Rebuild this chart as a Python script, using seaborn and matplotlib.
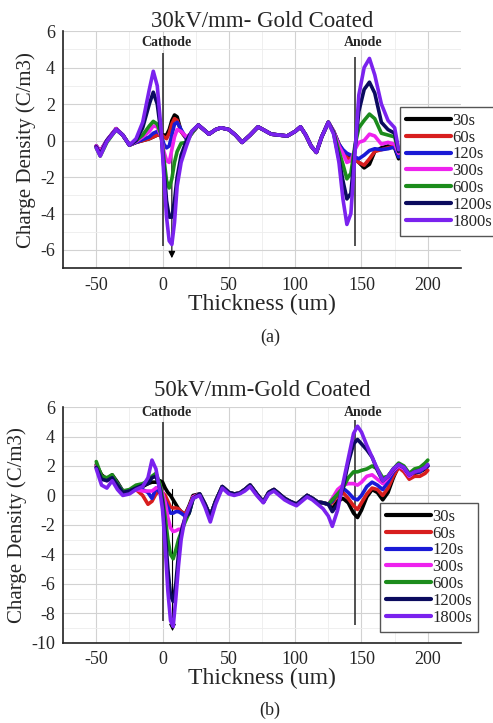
import numpy as np
import pandas as pd
import seaborn as sns
import matplotlib
matplotlib.use("Agg")
import matplotlib.pyplot as plt
from matplotlib.ticker import MultipleLocator

# ---------------- data ----------------
times = ["30s", "60s", "120s", "300s", "600s", "1200s", "1800s"]
colors = ["#000000", "#d81e1e", "#1a1ad6", "#ee22ee", "#1c8c1c", "#0b0b5e", "#7a22ee"]

# panel (a) 30 kV/mm
xa_left = [-50, -47, -42, -35, -30, -25, -20, -15, -10, -7, -4, -1, 1, 3, 5, 7, 9, 11, 14, 18, 22]
xa_bulk = [27, 31, 35, 40, 44, 50, 55, 60, 66, 72, 77, 82, 88, 94, 100, 104, 108, 112, 116, 120, 125]
xa_right = [129, 133, 136, 139, 142, 145, 148, 152, 156, 160, 165, 170, 175, 178]
bulk_a = [0.85, 0.6, 0.35, 0.6, 0.7, 0.6, 0.3, -0.1, 0.3, 0.75, 0.55, 0.35, 0.3, 0.25, 0.5, 0.75, 0.3, -0.3, -0.65, 0.2, 1.0]

a_30s = [-0.3, -0.6, 0.0, 0.65, 0.3, -0.25, -0.1, 0.0, 0.1, 0.2, 0.3, 0.3, 0.3, 0.3, 0.6, 1.1, 1.4, 1.3, 0.5, 0.1, 0.4] + bulk_a + \
        [0.5, -0.2, -0.6, -0.9, -0.9, -1.0, -1.2, -1.5, -1.3, -0.6, -0.4, -0.3, -0.4, -1.0]
a_60s = [-0.3, -0.6, 0.0, 0.65, 0.3, -0.25, -0.1, 0.0, 0.1, 0.2, 0.3, 0.3, 0.2, 0.1, 0.4, 0.9, 1.2, 1.1, 0.5, 0.1, 0.4] + bulk_a + \
        [0.5, -0.2, -0.55, -0.95, -1.0, -1.0, -1.2, -1.35, -1.0, -0.6, -0.5, -0.4, -0.3, -0.8]
a_120s = [-0.3, -0.6, 0.0, 0.65, 0.3, -0.25, -0.1, 0.05, 0.2, 0.4, 0.5, 0.3, -0.2, -0.4, -0.3, 0.3, 0.9, 1.0, 0.6, 0.1, 0.4] + bulk_a + \
         [0.5, -0.2, -0.5, -0.7, -0.8, -0.9, -1.0, -0.8, -0.55, -0.45, -0.5, -0.45, -0.35, -0.9]
a_300s = [-0.3, -0.6, 0.0, 0.65, 0.3, -0.25, -0.05, 0.2, 0.5, 0.8, 0.75, 0.2, -0.6, -1.1, -1.2, -0.5, 0.2, 0.6, 0.5, 0.2, 0.4] + bulk_a + \
         [0.5, -0.3, -0.7, -1.2, -1.1, -0.5, -0.1, 0.0, 0.35, 0.25, -0.2, -0.1, -0.2, -0.7]
a_600s = [-0.4, -0.85, -0.1, 0.6, 0.3, -0.25, 0.0, 0.3, 0.8, 1.05, 0.9, 0.3, -1.0, -2.2, -2.6, -2.1, -1.2, -0.6, -0.15, -0.1, 0.4] + bulk_a + \
         [0.45, -0.6, -1.3, -2.1, -1.8, -0.3, 0.7, 1.1, 1.45, 1.2, 0.4, 0.3, 0.2, -0.6]
a_1200s = [-0.35, -0.75, 0.0, 0.6, 0.3, -0.25, 0.0, 0.7, 2.0, 2.65, 2.0, 0.3, -1.5, -3.3, -4.2, -4.2, -3.3, -2.0, -0.8, 0.0, 0.5] + bulk_a + \
          [0.4, -1.0, -2.2, -3.2, -2.9, -0.5, 1.6, 2.8, 3.2, 2.6, 1.0, 0.6, 0.4, -0.6]
a_1800s = [-0.4, -0.85, -0.05, 0.6, 0.3, -0.25, 0.1, 1.0, 2.8, 3.8, 3.0, 0.5, -2.0, -4.2, -5.5, -5.7, -4.5, -2.5, -1.2, -0.3, 0.5] + bulk_a + \
          [0.35, -1.2, -3.2, -4.6, -4.0, -0.8, 2.5, 4.0, 4.5, 3.6, 2.0, 1.1, 0.7, -0.5]

# panel (b) 50 kV/mm
xb_left = [-50, -46, -42, -38, -34, -30, -25, -20, -15, -11, -8, -5, -2, 0, 2, 4, 6, 8, 10, 12, 14, 17, 20, 23]
xb_bulk = [28, 32, 36, 40, 45, 50, 54, 58, 62, 66, 71, 76, 80, 84, 88, 92, 96, 101, 105, 109, 113, 117, 121, 125]
xb_right = [128, 132, 136, 140, 144, 147, 150, 154, 158, 162, 166, 170, 174, 178, 182, 186, 190, 194, 198, 200]
bulk_b = [0.1, -0.6, -1.4, -0.4, 0.6, 0.2, 0.1, 0.15, 0.4, 0.7, 0.1, -0.45, 0.2, 0.4, 0.1, -0.2, -0.4, -0.6, -0.3, 0.0, -0.2, -0.45, -0.5, -0.6]
bulk_b_1800 = [0.0, -0.8, -1.8, -0.6, 0.5, 0.1, 0.0, 0.1, 0.3, 0.6, 0.0, -0.5, 0.1, 0.3, 0.0, -0.3, -0.5, -0.7, -0.4, -0.1, -0.3, -0.6, -0.9, -1.4]

b_30s = [2.1, 1.4, 1.1, 1.4, 0.9, 0.3, 0.3, 0.5, 0.6, 0.8, 0.9, 0.9, 1.0, 0.9, 0.5, 0.2, 0.0, -0.3, -0.6, -0.9, -1.1, -1.3, -0.7, 0.0] + bulk_b + \
        [-0.9, -0.4, -0.2, -0.5, -1.2, -1.5, -1.0, -0.1, 0.4, 0.2, -0.3, 0.2, 1.2, 2.0, 1.8, 1.2, 1.5, 1.6, 1.8, 2.0]
b_60s = [2.0, 1.3, 1.1, 1.3, 0.8, 0.3, 0.3, 0.4, 0.0, -0.6, -0.4, 0.1, 0.3, 0.2, 0.0, -0.4, -0.8, -0.85, -0.85, -0.9, -1.1, -1.3, -0.8, -0.1] + bulk_b + \
        [-0.5, 0.0, 0.2, -0.2, -0.7, -0.95, -0.5, 0.1, 0.5, 0.4, 0.0, 0.5, 1.3, 1.9, 1.6, 1.1, 1.3, 1.3, 1.5, 1.7]
b_120s = [1.9, 1.2, 1.1, 1.3, 0.8, 0.3, 0.3, 0.5, 0.4, 0.2, -0.2, 0.5, 0.2, -0.1, -0.4, -0.8, -1.2, -1.2, -1.1, -1.1, -1.2, -1.4, -1.2, -0.2] + bulk_b + \
         [-0.4, 0.2, 0.5, 0.2, -0.2, -0.3, 0.0, 0.6, 0.9, 0.7, 0.4, 0.9, 1.6, 2.0, 1.8, 1.3, 1.6, 1.6, 1.9, 2.0]
b_300s = [2.0, 1.2, 1.0, 1.2, 0.7, 0.2, 0.3, 0.4, 0.3, 0.3, 0.3, 0.5, 0.6, 0.2, -0.5, -1.5, -2.2, -2.45, -2.4, -2.3, -2.3, -1.6, -1.0, -0.1] + bulk_b + \
         [-0.2, 0.4, 0.7, 0.8, 0.8, 0.7, 0.9, 1.3, 1.4, 1.1, 0.8, 1.2, 1.7, 2.0, 1.8, 1.3, 1.6, 1.7, 1.9, 2.0]
b_600s = [2.3, 1.3, 1.2, 1.4, 0.8, 0.3, 0.4, 0.7, 0.8, 1.0, 1.3, 1.5, 0.8, -0.2, -1.5, -3.0, -4.0, -4.3, -3.7, -3.0, -2.5, -1.8, -1.2, -0.2] + bulk_b + \
         [-0.3, 0.1, 0.5, 1.2, 1.6, 1.6, 1.7, 1.8, 2.0, 1.8, 1.2, 1.3, 1.8, 2.2, 2.0, 1.5, 1.8, 1.9, 2.2, 2.4]
b_1200s = [1.9, 1.1, 1.0, 1.2, 0.7, 0.2, 0.3, 0.5, 0.7, 0.8, 1.2, 1.3, 0.5, -0.5, -2.5, -5.0, -6.8, -7.2, -6.0, -4.0, -2.5, -1.5, -1.2, -0.2] + bulk_b + \
          [-1.1, -0.6, 0.5, 2.2, 3.5, 3.8, 3.5, 3.1, 2.6, 1.7, 1.0, 1.3, 1.8, 2.1, 1.9, 1.4, 1.6, 1.7, 1.9, 2.0]
b_1800s = [1.8, 0.7, 0.5, 1.0, 0.4, 0.0, 0.1, 0.4, 0.6, 1.2, 2.4, 1.8, 0.3, -1.0, -3.5, -6.5, -8.5, -8.9, -7.0, -4.8, -3.0, -1.5, -0.8, -0.2] + bulk_b_1800 + \
          [-2.1, -1.0, 0.8, 2.5, 4.2, 4.7, 4.3, 3.4, 2.6, 1.8, 1.0, 1.3, 1.8, 2.1, 1.9, 1.4, 1.6, 1.7, 1.9, 2.1]

cathode_x, anode_x = 0, 145
# electrode marker lines (y extents) and arrow (x, y_start, y_end) per panel
elec_a = {"cathode": (-5.8, 4.8), "anode": (-5.8, 4.6)}
elec_b = {"cathode": (-8.5, 5.0), "anode": (-8.8, 5.1)}
arrow_a = (7, 0.5, -6.6)
arrow_b = (7.5, 0.6, -9.4)


def make_df(x, series):
    rows = []
    for t, ys in zip(times, series):
        for xv, yv in zip(x, ys):
            rows.append((xv, yv, t))
    return pd.DataFrame(rows, columns=["Thickness", "Charge", "Time"])


xa = xa_left + xa_bulk + xa_right
xb = xb_left + xb_bulk + xb_right
df_a = make_df(xa, [a_30s, a_60s, a_120s, a_300s, a_600s, a_1200s, a_1800s])
df_b = make_df(xb, [b_30s, b_60s, b_120s, b_300s, b_600s, b_1200s, b_1800s])

# ---------------- style ----------------
sns.set_style("white")
plt.rcParams['font.family'] = ['Liberation Serif', 'DejaVu Serif']
plt.rcParams['axes.unicode_minus'] = False

fig = plt.figure(figsize=(4.93, 7.23), dpi=100)
ax_a = fig.add_axes([0.128, 0.629, 0.807, 0.328])
ax_b = fig.add_axes([0.128, 0.111, 0.807, 0.326])

palette = dict(zip(times, colors))


def draw(ax, df, title, ylim, elec, arrow, leg_anchor, lab_off, tpad):
    sns.lineplot(data=df, x="Thickness", y="Charge", hue="Time", hue_order=times,
                 palette=palette, linewidth=2.6, sort=False, estimator=None, ax=ax)
    ax.set_xlim(-75, 225)
    ax.set_ylim(*ylim)
    ax.xaxis.set_major_locator(MultipleLocator(50))
    ax.xaxis.set_minor_locator(MultipleLocator(25))
    ax.yaxis.set_major_locator(MultipleLocator(2))
    ax.yaxis.set_minor_locator(MultipleLocator(1))
    ax.grid(which="major", color="#d2d2d2", lw=0.8)
    ax.grid(which="minor", color="#ededed", lw=0.6)
    ax.set_axisbelow(True)
    for s in ["top", "right"]:
        ax.spines[s].set_visible(False)
    for s in ["left", "bottom"]:
        ax.spines[s].set_color("#222222")
        ax.spines[s].set_linewidth(1.2)
    ax.tick_params(axis="x", which="major", direction="in", length=4, labelsize=13, pad=6)
    ax.tick_params(axis="x", which="minor", direction="in", length=2)
    ax.tick_params(axis="y", which="major", direction="out", length=4, labelsize=13, pad=2)
    ax.tick_params(axis="y", which="minor", direction="out", length=2)
    ax.set_xlabel("Thickness (um)", fontsize=17, labelpad=0)
    ax.set_ylabel("Charge Density (C/m3)", fontsize=15, labelpad=3)
    ax.set_title(title, fontsize=16.5, pad=tpad)

    ax.vlines(cathode_x, *elec["cathode"], color="#333333", lw=1.2, zorder=1.5)
    ax.vlines(anode_x, *elec["anode"], color="#333333", lw=1.2, zorder=1.5)
    lab_y = ylim[1] - lab_off
    ax.text(cathode_x + 3, lab_y, "Cathode", ha="center", va="center",
            fontsize=10, fontweight="bold")
    ax.text(anode_x + 6, lab_y, "Anode", ha="center", va="center",
            fontsize=10, fontweight="bold")
    ax.annotate("", xy=(arrow[0], arrow[2]), xytext=(arrow[0], arrow[1]),
                arrowprops=dict(arrowstyle="-|>", color="black", lw=0.8, mutation_scale=10),
                zorder=1.6)

    sns.move_legend(ax, "upper left", bbox_to_anchor=leg_anchor, title=None,
                    fontsize=12, frameon=True, fancybox=False, edgecolor="#555555",
                    framealpha=1, handlelength=2.7, handletextpad=0.1,
                    labelspacing=0.05, borderpad=0.35, borderaxespad=0)
    for ln in ax.get_legend().get_lines():
        ln.set_linewidth(3)


draw(ax_a, df_a, "30kV/mm- Gold Coated", (-7, 6), elec_a, arrow_a, (0.847, 0.68), 0.6, 3)
draw(ax_b, df_b, "50kV/mm-Gold Coated", (-10, 6), elec_b, arrow_b, (0.796, 0.593), 0.35, 8)

fig.text(0.548, 0.534, "(a)", ha="center", va="center", fontsize=13)
fig.text(0.548, 0.018, "(b)", ha="center", va="center", fontsize=13)

fig.savefig("out.png", dpi=100)
